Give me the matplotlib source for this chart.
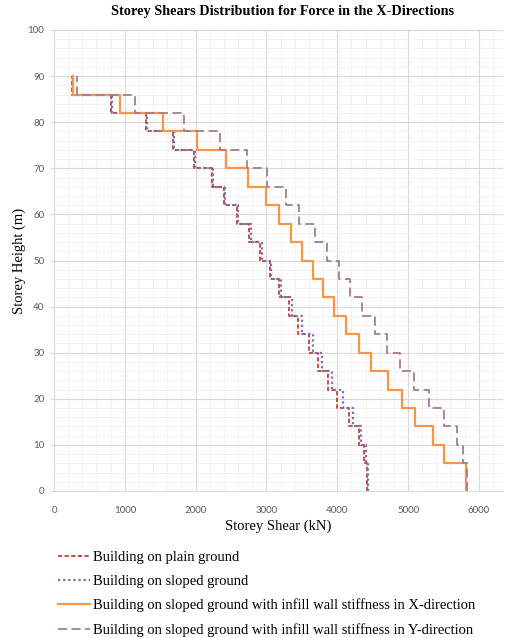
import numpy as np
import matplotlib
matplotlib.use('Agg')
import matplotlib.pyplot as plt
from matplotlib.ticker import MultipleLocator

# storey boundaries (m), bottom storey is 6 m tall, rest 4 m
heights = [0, 6, 10, 14, 18, 22, 26, 30, 34, 38, 42, 46, 50, 54, 58, 62, 66, 70, 74, 78, 82, 86, 90]

# storey shear (kN) for each storey, from bottom to top
plain_ground = [4425, 4380, 4300, 4170, 3990, 3865, 3730, 3600, 3445, 3320, 3175,
                3050, 2915, 2760, 2590, 2400, 2225, 1970, 1680, 1295, 800, 255]
sloped_ground = [4440, 4405, 4340, 4220, 4080, 3920, 3785, 3655, 3500, 3365, 3205,
                 3065, 2930, 2775, 2605, 2415, 2240, 1985, 1695, 1310, 815, 262]
infill_x = [5815, 5510, 5350, 5100, 4910, 4710, 4480, 4300, 4130, 3960, 3800,
            3660, 3500, 3340, 3180, 3000, 2740, 2430, 2020, 1535, 935, 270]
infill_y = [5830, 5780, 5690, 5500, 5290, 5085, 4890, 4700, 4530, 4350, 4180,
            4020, 3850, 3680, 3460, 3280, 3010, 2720, 2340, 1830, 1150, 330]

labels = ["Building on plain ground",
          "Building on sloped ground",
          "Building on sloped ground with infill wall stiffness in X-direction",
          "Building on sloped ground with infill wall stiffness in Y-direction"]


def stairs(shear):
    # each storey is a vertical segment at its shear value
    xs = np.repeat(shear, 2)
    ys = np.concatenate([[heights[0]], np.repeat(heights[1:-1], 2), [heights[-1]]])
    return xs, ys


fig = plt.figure(figsize=(5.05, 6.38), dpi=100)
ax = fig.add_axes([54 / 505, 1 - 491 / 638, 449 / 505, 461 / 638])

serif = 'Liberation Serif'
tickfont = 'Lato'

styles = [
    dict(color='#C0504D', linestyle=(0, (2.2, 1.2)), linewidth=1.4),
    dict(color='#7E6BB3', linestyle=(0, (1, 1.3)), linewidth=1.6),
    dict(color='#F79646', linestyle='-', linewidth=1.6),
    dict(color='#A57C8C', linestyle=(0, (5, 2.5)), linewidth=1.3),
]
for data, st, lab in zip([plain_ground, sloped_ground, infill_x, infill_y], styles, labels):
    xs, ys = stairs(data)
    ax.plot(xs, ys, label=lab, **st)

ax.set_xlim(0, 6340)
ax.set_ylim(0, 100)
ax.xaxis.set_major_locator(MultipleLocator(1000))
ax.xaxis.set_minor_locator(MultipleLocator(200))
ax.yaxis.set_major_locator(MultipleLocator(10))
ax.yaxis.set_minor_locator(MultipleLocator(2))
ax.grid(which='major', color='#D9D9D9', linewidth=0.8)
ax.grid(which='minor', color='#F0F0F0', linewidth=0.6)
ax.set_axisbelow(True)

for s in ['top', 'right']:
    ax.spines[s].set_visible(False)
for s in ['left', 'bottom']:
    ax.spines[s].set_color('#D9D9D9')
ax.tick_params(which='both', length=0, labelsize=7, labelcolor='#595959')
ax.tick_params(axis='x', which='major', pad=11)
ax.tick_params(axis='y', which='major', length=3, color='#D9D9D9', pad=4)
for t in ax.get_xticklabels() + ax.get_yticklabels():
    t.set_fontfamily(tickfont)

ax.set_xlabel("Storey Shear (kN)", fontfamily=serif, fontsize=10.5, labelpad=3)
ax.set_ylabel("Storey Height (m)", fontfamily=serif, fontsize=10.5, labelpad=1)
fig.text(0.56, 1 - 12 / 638, "Storey Shears Distribution for Force in the X-Directions",
         ha='center', va='center', fontfamily=serif, fontweight='bold', fontsize=10.3)

fig.legend(loc='upper left', bbox_to_anchor=(52 / 505, 1 - 545 / 638), frameon=False,
           prop={'family': serif, 'size': 10.5}, handlelength=2.2, handletextpad=0.2,
           labelspacing=0.73, borderaxespad=0)

fig.savefig('out.png', dpi=100)
